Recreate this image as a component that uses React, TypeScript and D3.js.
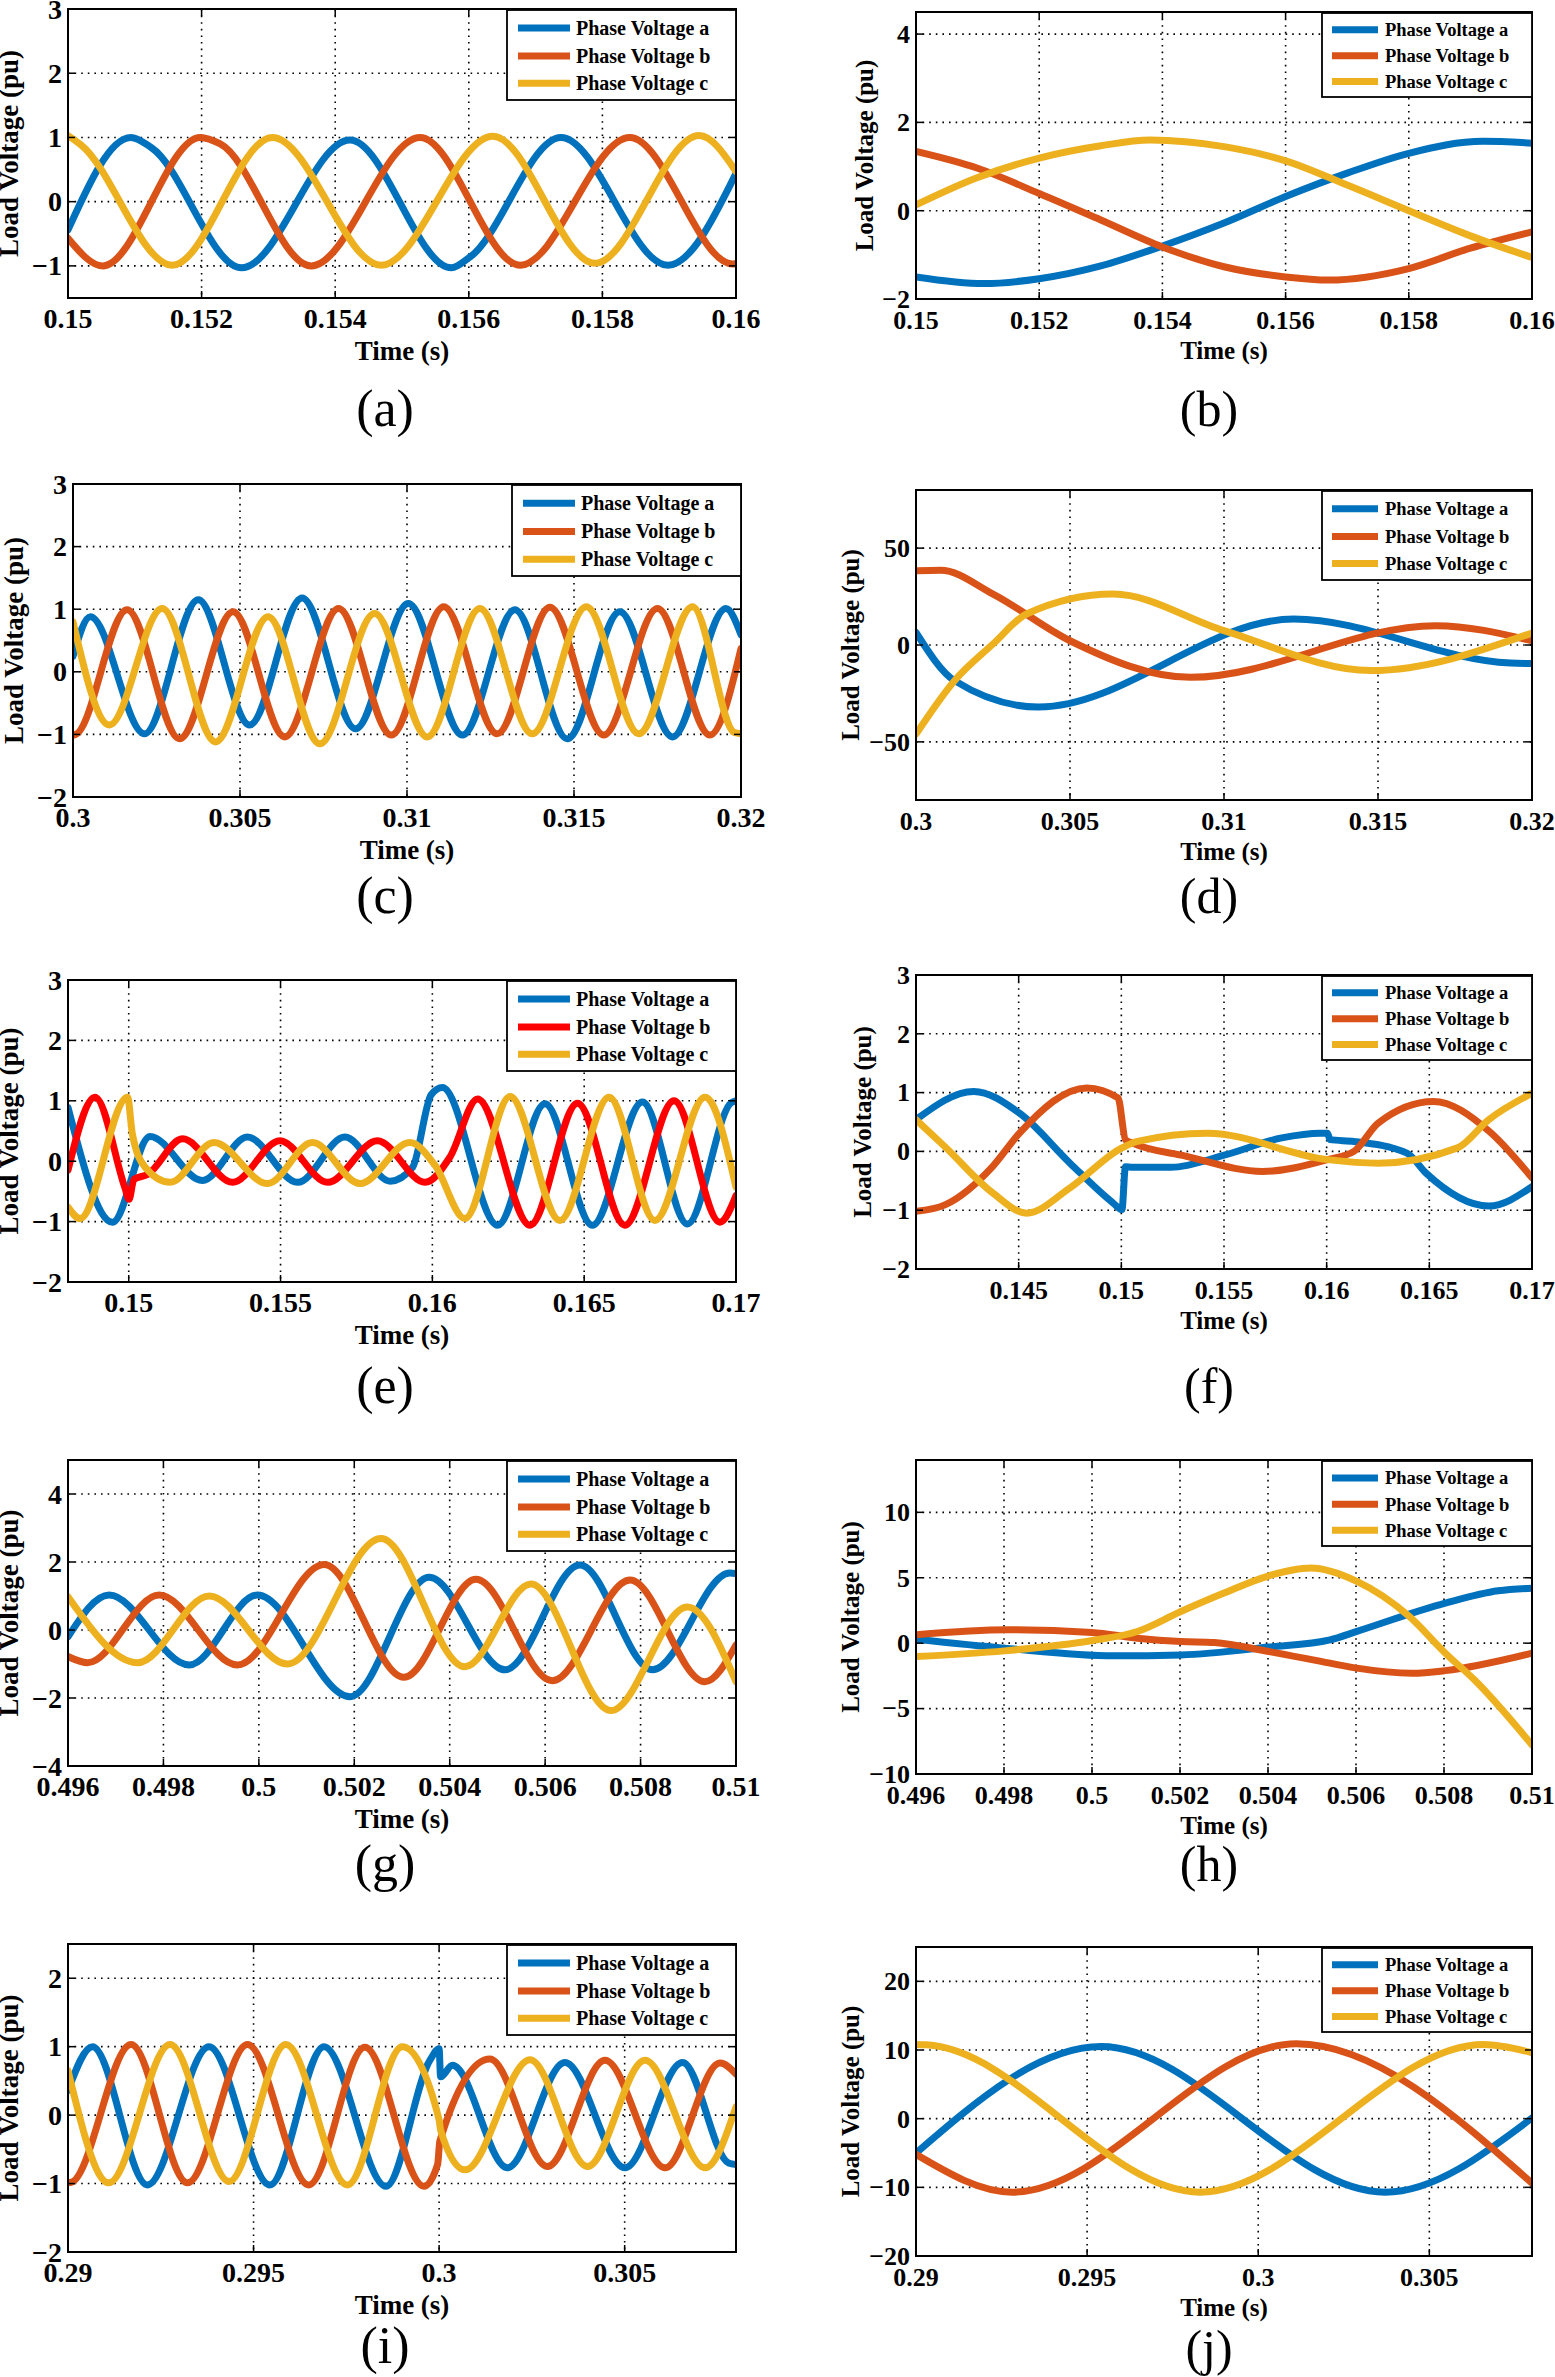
import * as d3 from 'd3';

type Pt = [number, number];

const LEGEND_LABELS = ['Phase Voltage a', 'Phase Voltage b', 'Phase Voltage c'];
const COLORS = ['#0072BD', '#D95319', '#EDB120'];
const COLORS_E = ['#0072BD', '#FF0000', '#EDB120'];

// (a)
const aTimeTicks = [0.15, 0.152, 0.154, 0.156, 0.158, 0.16];
const aVoltTicks = [-1, 0, 1, 2, 3];
const aPhaseA: Pt[] = [[0.15, -0.44], [0.15094, 1.0], [0.15125, 0.84], [0.1526, -1.03], [0.15422, 0.96], [0.15574, -1.03], [0.15602, -0.86], [0.15738, 1.0], [0.15898, -0.99], [0.16, 0.44]];
const aPhaseB: Pt[] = [[0.15, -0.57], [0.15052, -1.0], [0.15198, 1.0], [0.15228, 0.9], [0.15364, -1.0], [0.15527, 1.0], [0.15677, -0.99], [0.15841, 1.0], [0.15995, -0.97], [0.16, -0.96]];
const aPhaseC: Pt[] = [[0.15, 1.03], [0.1502, 0.88], [0.15156, -0.99], [0.15306, 1.0], [0.15469, -0.99], [0.15636, 1.02], [0.15789, -0.96], [0.15945, 1.03], [0.16, 0.47]];

// (b)
const bTimeTicks = [0.15, 0.152, 0.154, 0.156, 0.158, 0.16];
const bVoltTicks = [-2, 0, 2, 4];
const bPhaseA: Pt[] = [[0.15, -1.5], [0.1511, -1.65], [0.152, -1.54], [0.153, -1.25], [0.154, -0.8], [0.155, -0.28], [0.156, 0.32], [0.157, 0.85], [0.158, 1.3], [0.1592, 1.57], [0.16, 1.53]];
const bPhaseB: Pt[] = [[0.15, 1.34], [0.151, 0.96], [0.152, 0.39], [0.153, -0.21], [0.154, -0.82], [0.155, -1.27], [0.156, -1.5], [0.1567, -1.57], [0.158, -1.31], [0.159, -0.85], [0.16, -0.48]];
const bPhaseC: Pt[] = [[0.15, 0.13], [0.151, 0.75], [0.152, 1.19], [0.153, 1.47], [0.1538, 1.6], [0.155, 1.45], [0.156, 1.13], [0.157, 0.58], [0.158, 0.0], [0.159, -0.57], [0.16, -1.06]];

// (c)
const cTimeTicks = [0.3, 0.305, 0.31, 0.315, 0.32];
const cVoltTicks = [-2, -1, 0, 1, 2, 3];
const cPhaseA: Pt[] = [[0.3, 0.25], [0.30052, 0.88], [0.30214, -0.99], [0.30375, 1.15], [0.30529, -0.85], [0.30686, 1.18], [0.30846, -0.91], [0.31004, 1.09], [0.31166, -1.01], [0.31323, 0.99], [0.3148, -1.07], [0.31637, 0.96], [0.31795, -1.04], [0.31955, 1.01], [0.32, 0.59]];
const cPhaseB: Pt[] = [[0.3, -1.01], [0.30008, -1.0], [0.30162, 0.99], [0.30319, -1.07], [0.30479, 0.96], [0.30634, -1.04], [0.30795, 1.01], [0.30953, -1.01], [0.3111, 1.04], [0.3127, -0.99], [0.31428, 1.03], [0.31589, -1.01], [0.3175, 1.01], [0.31907, -1.01], [0.32, 0.37]];
const cPhaseC: Pt[] = [[0.3, 0.8], [0.30109, -0.85], [0.30267, 1.01], [0.30427, -1.12], [0.30584, 0.88], [0.30739, -1.15], [0.30903, 0.93], [0.31061, -1.04], [0.31218, 1.01], [0.31375, -0.99], [0.31537, 1.04], [0.31694, -0.99], [0.31855, 1.04], [0.3198, -0.97], [0.32, -0.99]];

// (d)
const dTimeTicks = [0.3, 0.305, 0.31, 0.315, 0.32];
const dVoltTicks = [-50, 0, 50];
const dPhaseA: Pt[] = [[0.3, 6.5], [0.30125, -18.4], [0.30398, -32], [0.31226, 13.4], [0.3193, -9.3], [0.32, -9.6]];
const dPhaseB: Pt[] = [[0.3, 38.3], [0.3008, 38.6], [0.3025, 26.3], [0.305, 2.2], [0.30891, -16.7], [0.31688, 10], [0.32, 2.2]];
const dPhaseC: Pt[] = [[0.3, -46], [0.30125, -18.4], [0.3025, 0.5], [0.30359, 16], [0.3064, 26.3], [0.31, 7.4], [0.31477, -13.2], [0.32, 6.2]];

// (e)
const eTimeTicks = [0.15, 0.155, 0.16, 0.165, 0.17];
const eVoltTicks = [-2, -1, 0, 1, 2, 3];
const ePhaseA: Pt[] = [[0.148, 0.89], [0.14947, -1.01], [0.1507, 0.41], [0.15243, -0.32], [0.15391, 0.4], [0.15556, -0.35], [0.15712, 0.4], [0.15861, -0.33], [0.15935, -0.1], [0.15996, 1.1], [0.16033, 1.22], [0.16215, -1.06], [0.16371, 0.95], [0.16527, -1.06], [0.16692, 0.98], [0.1684, -1.04], [0.16985, 0.97], [0.17, 1.0]];
const ePhaseB: Pt[] = [[0.148, -0.15], [0.14889, 1.06], [0.14988, -0.45], [0.15001, -0.63], [0.15017, -0.3], [0.15062, -0.22], [0.15177, 0.37], [0.15342, -0.35], [0.15498, 0.34], [0.15655, -0.35], [0.15819, 0.34], [0.15976, -0.35], [0.16058, 0.07], [0.16149, 1.03], [0.16322, -1.06], [0.16478, 0.96], [0.16634, -1.06], [0.16796, 1.0], [0.16947, -1.01], [0.17, -0.57]];
const ePhaseC: Pt[] = [[0.148, -0.76], [0.1484, -0.95], [0.14996, 1.06], [0.15012, 0.45], [0.15054, -0.1], [0.15136, -0.35], [0.15281, 0.31], [0.15457, -0.37], [0.15605, 0.31], [0.15762, -0.37], [0.15926, 0.31], [0.16009, -0.07], [0.16107, -0.95], [0.16256, 1.07], [0.1642, -0.98], [0.16582, 1.06], [0.16733, -0.98], [0.16898, 1.06], [0.17, -0.43]];

// (f)
const fTimeTicks = [0.145, 0.15, 0.155, 0.16, 0.165, 0.17];
const fVoltTicks = [-2, -1, 0, 1, 2, 3];
const fPhaseA: Pt[] = [[0.14, 0.54], [0.14281, 1.02], [0.14504, 0.65], [0.1475, -0.2], [0.14961, -0.88], [0.15003, -0.99], [0.1502, -0.26], [0.15055, -0.27], [0.15242, -0.27], [0.15505, -0.06], [0.15781, 0.23], [0.15969, 0.31], [0.16004, 0.31], [0.16016, 0.2], [0.16133, 0.17], [0.16391, -0.03], [0.16484, -0.37], [0.16789, -0.93], [0.17, -0.6]];
const fPhaseB: Pt[] = [[0.14, -1.02], [0.14141, -0.91], [0.14375, -0.25], [0.14504, 0.31], [0.14832, 1.08], [0.14984, 0.91], [0.1502, 0.2], [0.15055, 0.14], [0.15313, -0.08], [0.15688, -0.34], [0.16004, -0.14], [0.16133, 0.0], [0.1625, 0.48], [0.1652, 0.85], [0.16789, 0.35], [0.17, -0.45]];
const fPhaseC: Pt[] = [[0.14, 0.54], [0.14141, 0.08], [0.14375, -0.71], [0.14539, -1.05], [0.1475, -0.62], [0.15003, 0.06], [0.15078, 0.17], [0.15418, 0.31], [0.16004, -0.14], [0.1625, -0.2], [0.16637, 0.06], [0.16789, 0.54], [0.17, 0.99]];

// (g)
const gTimeTicks = [0.496, 0.498, 0.5, 0.502, 0.504, 0.506, 0.508, 0.51];
const gVoltTicks = [-4, -2, 0, 2, 4];
const gPhaseA: Pt[] = [[0.496, -0.2], [0.49686, 1.03], [0.49854, -1.03], [0.49997, 1.03], [0.50191, -1.96], [0.50357, 1.55], [0.50516, -1.17], [0.50673, 1.91], [0.50825, -1.17], [0.50987, 1.68], [0.51, 1.66]];
const gPhaseB: Pt[] = [[0.496, -0.78], [0.49641, -0.96], [0.49791, 1.03], [0.49955, -1.03], [0.50137, 1.93], [0.50304, -1.39], [0.50455, 1.49], [0.50615, -1.49], [0.50778, 1.47], [0.50935, -1.52], [0.51, -0.44]];
const gPhaseC: Pt[] = [[0.496, 0.98], [0.49746, -0.96], [0.49896, 1.0], [0.5006, -1.0], [0.50256, 2.69], [0.50432, -1.08], [0.5057, 1.35], [0.50738, -2.37], [0.50898, 0.68], [0.51, -1.52]];

// (h)
const hTimeTicks = [0.496, 0.498, 0.5, 0.502, 0.504, 0.506, 0.508, 0.51];
const hVoltTicks = [-10, -5, 0, 5, 10];
const hPhaseA: Pt[] = [[0.496, 0.3], [0.49801, -0.38], [0.5005, -0.97], [0.50202, -0.9], [0.50402, -0.3], [0.50541, 0.25], [0.50602, 0.9], [0.50803, 3.06], [0.50923, 4.0], [0.51, 4.2]];
const hPhaseB: Pt[] = [[0.496, 0.64], [0.49808, 1.02], [0.5, 0.82], [0.50103, 0.38], [0.50202, 0.13], [0.50278, 0.05], [0.50402, -0.64], [0.50541, -1.53], [0.50602, -1.91], [0.50727, -2.3], [0.50803, -2.1], [0.51, -0.77]];
const hPhaseC: Pt[] = [[0.496, -1.02], [0.49801, -0.59], [0.5, 0.2], [0.50103, 0.89], [0.50202, 2.42], [0.503, 3.83], [0.50402, 5.15], [0.50497, 5.74], [0.50602, 4.72], [0.50721, 2.04], [0.50803, -0.77], [0.50869, -2.8], [0.51, -7.78]];

// (i)
const iTimeTicks = [0.29, 0.295, 0.3, 0.305];
const iVoltTicks = [-2, -1, 0, 1, 2];
const iPhaseA: Pt[] = [[0.29, 0.36], [0.29066, 1.0], [0.29214, -1.02], [0.2938, 1.0], [0.29544, -1.02], [0.2969, 1.0], [0.29857, -1.04], [0.29975, 0.8], [0.3, 0.97], [0.30004, 0.56], [0.30036, 0.73], [0.30184, -0.77], [0.30339, 0.77], [0.30501, -0.77], [0.30656, 0.77], [0.3078, -0.7], [0.308, -0.72]];
const iPhaseB: Pt[] = [[0.29, -0.99], [0.2901, -0.98], [0.2917, 1.03], [0.29322, -0.99], [0.29484, 1.03], [0.29649, -1.02], [0.298, 0.99], [0.29959, -1.04], [0.29996, -0.72], [0.30002, -0.38], [0.30137, 0.82], [0.30292, -0.75], [0.30447, 0.8], [0.30609, -0.77], [0.30757, 0.76], [0.308, 0.6]];
const iPhaseC: Pt[] = [[0.29, 0.65], [0.2911, -0.99], [0.29275, 1.03], [0.29434, -0.97], [0.29587, 1.03], [0.29753, -1.02], [0.29901, 1.0], [0.3, -0.07], [0.30004, -0.22], [0.3007, -0.8], [0.30245, 0.81], [0.304, -0.75], [0.30555, 0.8], [0.30717, -0.77], [0.308, 0.12]];

// (j)
const jTimeTicks = [0.29, 0.295, 0.3, 0.305];
const jVoltTicks = [-20, -10, 0, 10, 20];
const jPhaseA: Pt[] = [[0.29, -5.0], [0.29541, 10.5], [0.30371, -10.7], [0.308, 0.1]];
const jPhaseB: Pt[] = [[0.29, -5.2], [0.29281, -10.7], [0.30111, 10.9], [0.308, -9.4]];
const jPhaseC: Pt[] = [[0.29, 10.8], [0.2903, 10.75], [0.2983, -10.7], [0.30659, 10.8], [0.308, 9.6]];

interface PanelSpec {
  key: string;
  col: 0 | 1;
  left: number;
  right: number;
  top: number;
  bottom: number;
  xDomain: [number, number];
  yDomain: [number, number];
  xTicks: number[];
  yTicks: number[];
  series: Pt[][];
  colors: string[];
  tagY: number;
  yTitleX: number;
  legendH: number;
}

const PANELS: PanelSpec[] = [
  { key: 'a', col: 0, left: 68, right: 736, top: 9, bottom: 298, xDomain: [0.15, 0.16], yDomain: [-1.5, 3], xTicks: aTimeTicks, yTicks: aVoltTicks, series: [aPhaseA, aPhaseB, aPhaseC], colors: COLORS, tagY: 413, yTitleX: 11, legendH: 90 },
  { key: 'b', col: 1, left: 916, right: 1532, top: 12, bottom: 299, xDomain: [0.15, 0.16], yDomain: [-2, 4.5], xTicks: bTimeTicks, yTicks: bVoltTicks, series: [bPhaseA, bPhaseB, bPhaseC], colors: COLORS, tagY: 413, yTitleX: 866, legendH: 84 },
  { key: 'c', col: 0, left: 73, right: 741, top: 484, bottom: 797, xDomain: [0.3, 0.32], yDomain: [-2, 3], xTicks: cTimeTicks, yTicks: cVoltTicks, series: [cPhaseA, cPhaseB, cPhaseC], colors: COLORS, tagY: 900, yTitleX: 16, legendH: 91 },
  { key: 'd', col: 1, left: 916, right: 1532, top: 490, bottom: 800, xDomain: [0.3, 0.32], yDomain: [-80, 80], xTicks: dTimeTicks, yTicks: dVoltTicks, series: [dPhaseA, dPhaseB, dPhaseC], colors: COLORS, tagY: 900, yTitleX: 852, legendH: 89 },
  { key: 'e', col: 0, left: 68, right: 736, top: 980, bottom: 1282, xDomain: [0.148, 0.17], yDomain: [-2, 3], xTicks: eTimeTicks, yTicks: eVoltTicks, series: [ePhaseA, ePhaseB, ePhaseC], colors: COLORS_E, tagY: 1390, yTitleX: 11, legendH: 90 },
  { key: 'f', col: 1, left: 916, right: 1532, top: 975, bottom: 1269, xDomain: [0.14, 0.17], yDomain: [-2, 3], xTicks: fTimeTicks, yTicks: fVoltTicks, series: [fPhaseA, fPhaseB, fPhaseC], colors: COLORS, tagY: 1390, yTitleX: 864, legendH: 84 },
  { key: 'g', col: 0, left: 68, right: 736, top: 1460, bottom: 1766, xDomain: [0.496, 0.51], yDomain: [-4, 5], xTicks: gTimeTicks, yTicks: gVoltTicks, series: [gPhaseA, gPhaseB, gPhaseC], colors: COLORS, tagY: 1868, yTitleX: 11, legendH: 90 },
  { key: 'h', col: 1, left: 916, right: 1532, top: 1460, bottom: 1774, xDomain: [0.496, 0.51], yDomain: [-10, 14], xTicks: hTimeTicks, yTicks: hVoltTicks, series: [hPhaseA, hPhaseB, hPhaseC], colors: COLORS, tagY: 1868, yTitleX: 852, legendH: 85 },
  { key: 'i', col: 0, left: 68, right: 736, top: 1944, bottom: 2252, xDomain: [0.29, 0.308], yDomain: [-2, 2.5], xTicks: iTimeTicks, yTicks: iVoltTicks, series: [iPhaseA, iPhaseB, iPhaseC], colors: COLORS, tagY: 2350, yTitleX: 11, legendH: 90 },
  { key: 'j', col: 1, left: 916, right: 1532, top: 1947, bottom: 2256, xDomain: [0.29, 0.308], yDomain: [-20, 25], xTicks: jTimeTicks, yTicks: jVoltTicks, series: [jPhaseA, jPhaseB, jPhaseC], colors: COLORS, tagY: 2352, yTitleX: 852, legendH: 84 },
];

const fmtTime = (v: number) => String(+v.toFixed(4));
const fmtVolt = (v: number) => String(v).replace('-', '\u2212');

function Panel({ p }: { p: PanelSpec }) {
  const rightCol = p.col === 1;
  const tickFs = rightCol ? 26 : 28;
  const titleFs = rightCol ? 25 : 27;
  const legFs = rightCol ? 18.5 : 20;
  const tagFs = rightCol ? 50 : 52;
  const x = d3.scaleLinear().domain(p.xDomain).range([p.left, p.right]);
  const y = d3.scaleLinear().domain(p.yDomain).range([p.bottom, p.top]);
  const line = d3.line<Pt>().x(d => x(d[0])).y(d => y(d[1])).curve(d3.curveMonotoneX);
  const clipId = `clip-${p.key}`;
  const tl = 7;
  const legW = rightCol ? 210 : 229;
  const legX = p.right - legW;
  const legY = p.top + 1;
  const midX = (p.left + p.right) / 2;
  const midY = (p.top + p.bottom) / 2;
  const tagX = rightCol ? 1209 : 385;

  return (
    <g>
      <defs>
        <clipPath id={clipId}>
          <rect x={p.left} y={p.top} width={p.right - p.left} height={p.bottom - p.top} />
        </clipPath>
      </defs>

      {/* dotted grid */}
      {p.xTicks.map(t => (
        <line key={'gx' + t} x1={x(t)} x2={x(t)} y1={p.top} y2={p.bottom} stroke="#000" strokeWidth={1.6} strokeDasharray="1.6,5" />
      ))}
      {p.yTicks.map(t => (
        <line key={'gy' + t} x1={p.left} x2={p.right} y1={y(t)} y2={y(t)} stroke="#000" strokeWidth={1.6} strokeDasharray="1.6,5" />
      ))}

      {/* phase voltages */}
      <g clipPath={`url(#${clipId})`}>
        {p.series.map((s, i) => (
          <path key={i} d={line(s) || ''} fill="none" stroke={p.colors[i]} strokeWidth={7} strokeLinejoin="round" strokeLinecap="round" />
        ))}
      </g>

      {/* box + inward ticks */}
      <rect x={p.left} y={p.top} width={p.right - p.left} height={p.bottom - p.top} fill="none" stroke="#000" strokeWidth={2} />
      {p.xTicks.map(t => (
        <g key={'tx' + t}>
          <line x1={x(t)} x2={x(t)} y1={p.bottom} y2={p.bottom - tl} stroke="#000" strokeWidth={1.5} />
          <line x1={x(t)} x2={x(t)} y1={p.top} y2={p.top + tl} stroke="#000" strokeWidth={1.5} />
          <text x={x(t)} y={p.bottom + 30} textAnchor="middle" fontSize={tickFs} fontWeight="bold">{fmtTime(t)}</text>
        </g>
      ))}
      {p.yTicks.map(t => (
        <g key={'ty' + t}>
          <line x1={p.left} x2={p.left + tl} y1={y(t)} y2={y(t)} stroke="#000" strokeWidth={1.5} />
          <line x1={p.right} x2={p.right - tl} y1={y(t)} y2={y(t)} stroke="#000" strokeWidth={1.5} />
          <text x={p.left - 6} y={y(t) + tickFs * 0.34} textAnchor="end" fontSize={tickFs} fontWeight="bold">{fmtVolt(t)}</text>
        </g>
      ))}

      {/* axis titles */}
      <text x={midX} y={p.bottom + (rightCol ? 53 : 55) + 7} textAnchor="middle" fontSize={titleFs} fontWeight="bold">Time (s)</text>
      <text transform={`translate(${p.yTitleX + 7},${midY}) rotate(-90)`} textAnchor="middle" fontSize={titleFs} fontWeight="bold">Load Voltage (pu)</text>
      <text x={tagX} y={p.tagY + 13} textAnchor="middle" fontSize={tagFs}>{`(${p.key})`}</text>

      {/* legend */}
      <rect x={legX} y={legY} width={legW} height={p.legendH} fill="#fff" stroke="#000" strokeWidth={1.8} />
      {LEGEND_LABELS.map((lab, i) => {
        const cy = legY + p.legendH * [0.2, 0.51, 0.815][i];
        const l0 = legX + (rightCol ? 10 : 11);
        const l1 = legX + (rightCol ? 56 : 63);
        return (
          <g key={lab}>
            <line x1={l0} x2={l1} y1={cy} y2={cy} stroke={p.colors[i]} strokeWidth={7} />
            <text x={legX + (rightCol ? 63 : 69)} y={cy + legFs * 0.34} fontSize={legFs} fontWeight="bold">{lab}</text>
          </g>
        );
      })}
    </g>
  );
}

export default function App() {
  return (
    <svg
      width={1555}
      height={2377}
      viewBox="0 0 1555 2377"
      style={{ position: 'absolute', left: 0, top: 0, display: 'block' }}
      fontFamily="'Liberation Serif', 'Times New Roman', Times, serif"
    >
      <rect width={1555} height={2377} fill="#fff" />
      {PANELS.map(p => <Panel key={p.key} p={p} />)}
    </svg>
  );
}
